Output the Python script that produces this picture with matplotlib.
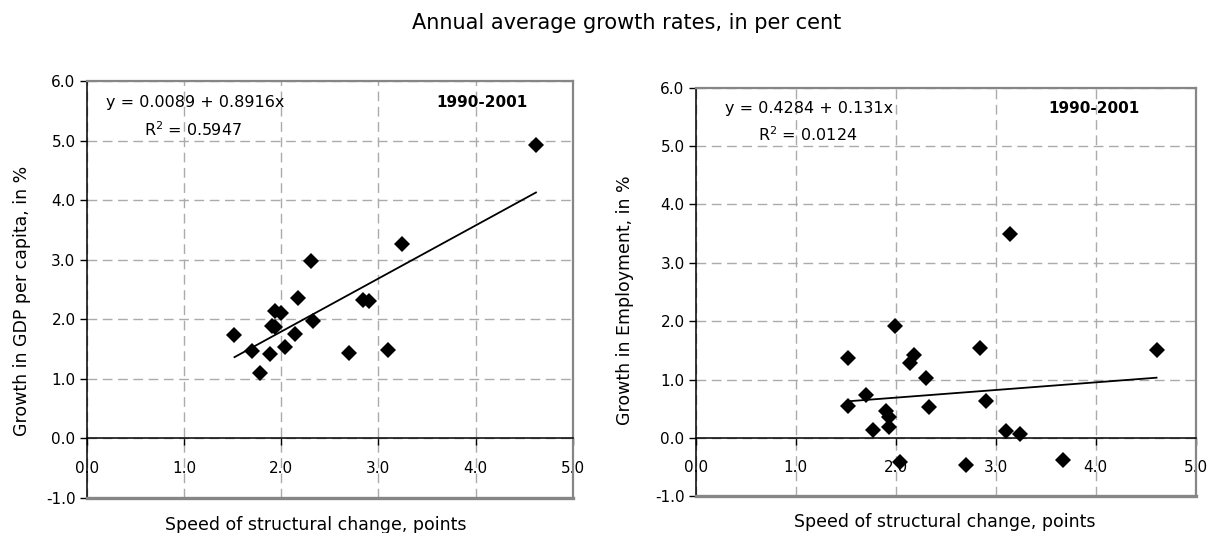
import matplotlib
matplotlib.use("Agg")
import matplotlib.pyplot as plt

# speed of structural change (x) vs growth
gdp_x = [2.31, 2.17, 2.84, 2.90, 1.94, 2.00, 1.91, 1.94, 2.33, 1.52,
         2.14, 1.70, 2.04, 1.89, 2.70, 3.10, 1.78, 3.24, 4.62]
gdp_y = [2.97, 2.36, 2.33, 2.31, 2.14, 2.10, 1.88, 1.87, 1.97, 1.74,
         1.76, 1.46, 1.53, 1.42, 1.43, 1.49, 1.09, 3.27, 4.92]

emp_x = [3.14, 1.995, 1.52, 2.18, 2.14, 2.84, 2.30, 1.70, 1.52, 2.90, 2.33,
         1.90, 1.93, 1.93, 1.775, 3.10, 3.24, 4.61, 2.04, 2.70, 3.67]
emp_y = [3.49, 1.92, 1.37, 1.42, 1.29, 1.54, 1.02, 0.73, 0.55, 0.63, 0.53,
         0.46, 0.36, 0.19, 0.13, 0.12, 0.07, 1.50, -0.41, -0.47, -0.38]

gdp_fit = (0.0089, 0.8916)   # intercept, slope
emp_fit = (0.4284, 0.131)
gdp_r2 = "0.5947"
emp_r2 = "0.0124"
period = "1990-2001"

x_ticks = [0, 1, 2, 3, 4, 5]
y_ticks = [-1, 0, 1, 2, 3, 4, 5, 6]

FS = 11
LAB = 12.5
GRID = '#ababab'
BORDER = '#868686'
plt.rcParams['font.family'] = ['DejaVu Sans']
plt.rcParams['xtick.labelsize'] = FS
plt.rcParams['ytick.labelsize'] = FS


def panel(ax, xs, ys, fit, r2, eq, eq_pos, r2_pos, per_pos):
    ax.set_xlim(0, 5)
    ax.set_ylim(-1, 6)
    ax.grid(True, ls=(0, (7, 4)), color=GRID, lw=1, zorder=0)
    ax.set_axisbelow(True)
    for s in ['top', 'right']:
        ax.spines[s].set_color(BORDER)
        ax.spines[s].set_linewidth(1.6)
    ax.spines['left'].set_color('black')
    ax.spines['left'].set_linewidth(1.1)
    ax.spines['bottom'].set_position(('data', 0))
    ax.spines['bottom'].set_color('black')
    ax.spines['bottom'].set_linewidth(1.1)
    ax.set_xticks(x_ticks)
    ax.set_yticks(y_ticks)
    ax.set_xticklabels(['%.1f' % t for t in x_ticks])
    ax.set_yticklabels(['%.1f' % t for t in y_ticks])
    ax.axhline(-1, color=BORDER, lw=2.4, clip_on=False, zorder=3)
    ax.tick_params(axis='x', direction='out', length=5, pad=11, width=1)
    ax.tick_params(axis='y', direction='out', length=5, pad=3, width=1)

    ax.plot(xs, ys, 'D', color='black', ms=8, mew=0, zorder=4)
    x0, x1 = min(xs), max(xs)
    ax.plot([x0, x1], [fit[0] + fit[1] * x0, fit[0] + fit[1] * x1],
            color='black', lw=1.3, zorder=4)

    ax.text(eq_pos[0], eq_pos[1], eq, fontsize=11.5, ha='left', va='center')
    ax.text(r2_pos[0], r2_pos[1], 'R$^2$ = ' + r2, fontsize=11.5,
            ha='center', va='center')
    ax.text(per_pos[0], per_pos[1], period, fontsize=FS, fontweight='bold',
            ha='center', va='center')


fig = plt.figure(figsize=(12.12, 5.33), dpi=100)
ax1 = fig.add_axes([0.0715, 0.0657, 0.4012, 0.7824])
ax2 = fig.add_axes([0.574, 0.0687, 0.4124, 0.767])

panel(ax1, gdp_x, gdp_y, gdp_fit, gdp_r2, 'y = 0.0089 + 0.8916x',
      (0.2, 5.64), (1.09, 5.18), (4.06, 5.64))
panel(ax2, emp_x, emp_y, emp_fit, emp_r2, 'y = 0.4284 + 0.131x',
      (0.29, 5.65), (1.12, 5.19), (3.98, 5.65))

fig.text(627 / 1212, 1 - 23 / 533, 'Annual average growth rates, in per cent',
         fontsize=15, ha='center', va='center')
fig.text(22 / 1212, 1 - 301 / 533, 'Growth in GDP per capita, in %',
         fontsize=LAB, rotation=90, ha='center', va='center')
fig.text(625 / 1212, 1 - 300 / 533, 'Growth in Employment, in %',
         fontsize=LAB, rotation=90, ha='center', va='center')
fig.text(316 / 1212, 1 - 525 / 533, 'Speed of structural change, points',
         fontsize=LAB, ha='center', va='center')
fig.text(945 / 1212, 1 - 522 / 533, 'Speed of structural change, points',
         fontsize=LAB, ha='center', va='center')

fig.savefig('out.png', dpi=100)
